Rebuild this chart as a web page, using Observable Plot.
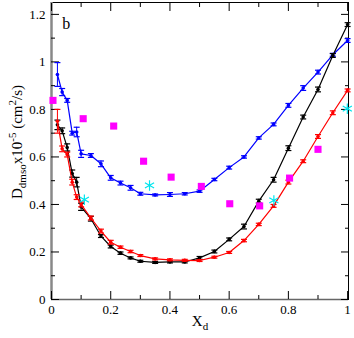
<!DOCTYPE html>
<html><head><meta charset="utf-8">
<script src="https://cdn.jsdelivr.net/npm/d3@7"></script>
<script src="https://cdn.jsdelivr.net/npm/@observablehq/plot@0.6"></script>
<style>body{margin:0;background:#fff}</style>
</head><body><div id="chart"></div>
<script>
const xd = [0.02,0.036,0.053,0.07,0.085,0.1,0.133,0.167,0.2,0.233,0.267,0.3,0.35,0.4,0.45,0.5,0.55,0.6,0.65,0.7,0.75,0.8,0.85,0.9,0.95,1.0];
const blueY = [0.947,0.873,0.838,0.70,0.705,0.613,0.606,0.571,0.512,0.49,0.47,0.445,0.44,0.442,0.445,0.456,0.505,0.555,0.60,0.68,0.737,0.817,0.89,0.957,1.03,1.09];
const blueErr = [0.05,0.015,0.008,0.008,0.02,0.015,0.008,0.012,0.01,0.008,0.01,0.006,0.004,0.008,0.005,0.005,0.005,0.006,0.005,0.005,0.006,0.008,0.01,0.008,0.006,0.008];
const blackY = [0.735,0.71,0.64,0.53,0.494,0.39,0.34,0.267,0.223,0.195,0.175,0.161,0.156,0.158,0.158,0.175,0.202,0.253,0.307,0.414,0.504,0.637,0.768,0.884,1.027,1.157];
const blackErr = [0.02,0.012,0.015,0.015,0.02,0.015,0.01,0.006,0.006,0.005,0.004,0.004,0.004,0.004,0.004,0.006,0.006,0.006,0.01,0.008,0.01,0.01,0.008,0.01,0.008,0.008];
const redY = [0.75,0.634,0.61,0.494,0.431,0.40,0.343,0.288,0.241,0.22,0.202,0.185,0.171,0.167,0.165,0.164,0.178,0.198,0.248,0.316,0.394,0.494,0.582,0.686,0.786,0.88];
const redErr = [0.05,0.012,0.01,0.012,0.01,0.01,0.008,0.008,0.008,0.005,0.005,0.004,0.004,0.004,0.004,0.004,0.004,0.004,0.005,0.005,0.006,0.008,0.006,0.008,0.008,0.006];
const sqX = [0.005,0.107,0.21,0.311,0.404,0.506,0.602,0.703,0.804,0.90];
const sqY = [0.838,0.761,0.73,0.582,0.515,0.476,0.403,0.394,0.511,0.632];
const starX = [0.111,0.331,0.751,0.999];
const starY = [0.42,0.48,0.417,0.803];
const xMajor = [0,0.2,0.4,0.6,0.8,1];
const xMinor = [0.1,0.3,0.5,0.7,0.9];
const yMajor = [0,0.2,0.4,0.6,0.8,1,1.2];
const yMinor = [0.1,0.3,0.5,0.7,0.9,1.1];
const xLabels = ["0","0.2","0.4","0.6","0.8","1"];
const yLabels = ["0","0.2","0.4","0.6","0.8","1","1.2"];

const series = [
  {ys: blueY, errs: blueErr, color: "#0000ff"},
  {ys: blackY, errs: blackErr, color: "#000000"},
  {ys: redY, errs: redErr, color: "#ff0000"}
];
const cap = {draw(ctx, size){ const w = 3; ctx.moveTo(-w,0); ctx.lineTo(w,0); }};

const marks = [];
for (const s of series) {
  const d = xd.map((x,i)=>({x, y:s.ys[i], lo:s.ys[i]-s.errs[i], hi:s.ys[i]+s.errs[i]}));
  marks.push(Plot.line(d, {x:"x", y:"y", stroke:s.color, strokeWidth:1.2}));
  marks.push(Plot.ruleX(d, {x:"x", y1:"lo", y2:"hi", stroke:s.color, strokeWidth:1}));
  marks.push(Plot.dot(d, {x:"x", y:"lo", symbol:cap, stroke:s.color, fill:"none", r:3, strokeWidth:1.2}));
  marks.push(Plot.dot(d, {x:"x", y:"hi", symbol:cap, stroke:s.color, fill:"none", r:3, strokeWidth:1.2}));
  marks.push(Plot.dot(d, {x:"x", y:"y", fill:s.color, r:1.8}));
}
const sq = sqX.map((x,i)=>({x, y:sqY[i]}));
const st = starX.map((x,i)=>({x, y:starY[i]}));
marks.push(Plot.dot(sq, {x:"x", y:"y", symbol:"square", fill:"#ff00ff", r:4}));
marks.push(Plot.dot(st, {x:"x", y:"y", symbol:"asterisk", stroke:"#00e5ee", r:5, strokeWidth:1.2}));

const blank = () => "";
const ax = (fn, o) => fn({label:null, ...o});
const plot = Plot.plot({
  width: 354, height: 338,
  marginLeft: 51, marginRight: 6, marginTop: 2, marginBottom: 39,
  x: {domain:[0,1.003], axis:null},
  y: {domain:[0,1.25], axis:null},
  style: {fontFamily:"Liberation Serif", fontSize:"13px", color:"#000", background:"#fff"},
  marks: [
    Plot.frame({stroke:"#000", strokeWidth:1}),
    Plot.ruleX([0], {stroke:"#888", strokeWidth:2.5}),
    Plot.ruleY([0], {stroke:"#666", strokeWidth:1.5}),
    ax(Plot.axisX, {anchor:"bottom", ticks:xMajor, tickSize:-8, tickFormat:blank}),
    ax(Plot.axisX, {anchor:"bottom", ticks:xMinor, tickSize:-4, tickFormat:blank}),
    ax(Plot.axisX, {anchor:"top", ticks:xMajor, tickSize:-8, tickFormat:blank}),
    ax(Plot.axisX, {anchor:"top", ticks:xMinor, tickSize:-4, tickFormat:blank}),
    ax(Plot.axisY, {anchor:"left", ticks:yMajor, tickSize:-8, tickFormat:blank}),
    ax(Plot.axisY, {anchor:"left", ticks:yMinor, tickSize:-4, tickFormat:blank}),
    ax(Plot.axisY, {anchor:"right", ticks:yMajor, tickSize:-8, tickFormat:blank}),
    ax(Plot.axisY, {anchor:"right", ticks:yMinor, tickSize:-4, tickFormat:blank}),
    ax(Plot.axisX, {anchor:"bottom", ticks:xMajor, tickSize:0, tickPadding:5, tickFormat:(d,i)=>xLabels[i]}),
    ax(Plot.axisY, {anchor:"left", ticks:yMajor, tickSize:0, tickPadding:6, tickFormat:(d,i)=>yLabels[i]}),
    Plot.text(["b"], {x:()=>0.05, y:()=>1.16, fontSize:16, textAnchor:"middle"}),
    ...marks
  ]
});
document.getElementById("chart").appendChild(plot);

const svg = d3.select(plot);
const yl = svg.append("text")
  .attr("transform","translate(22,142) rotate(-90)")
  .attr("text-anchor","middle")
  .attr("font-family","Liberation Serif")
  .attr("font-size",15)
  .attr("fill","#000");
yl.append("tspan").text("D");
yl.append("tspan").attr("font-size",11).attr("dy",4).text("dmso");
yl.append("tspan").attr("dy",-4).text("x10");
yl.append("tspan").attr("font-size",11).attr("dy",-6).text("-5");
yl.append("tspan").attr("dy",6).text(" (cm");
yl.append("tspan").attr("font-size",11).attr("dy",-6).text("2");
yl.append("tspan").attr("dy",6).text("/s)");

const xl = svg.append("text")
  .attr("transform","translate(200,326)")
  .attr("text-anchor","middle")
  .attr("font-family","Liberation Serif")
  .attr("font-size",15)
  .attr("fill","#000");
xl.append("tspan").text("X");
xl.append("tspan").attr("font-size",11).attr("dy",4).text("d");
</script>
</body></html>
